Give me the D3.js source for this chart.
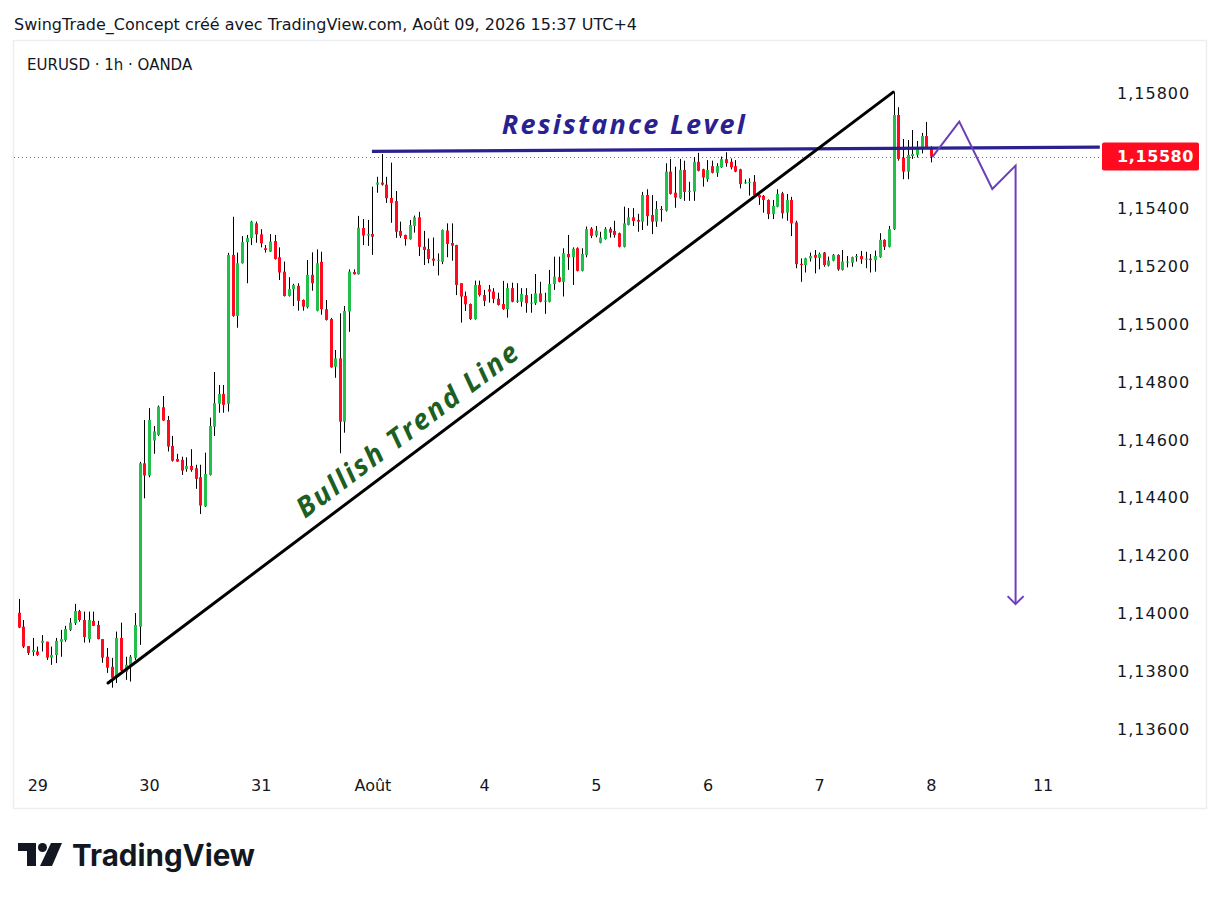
<!DOCTYPE html>
<html><head><meta charset="utf-8">
<script src="https://cdn.jsdelivr.net/npm/d3@7"></script>
<style>html,body{margin:0;padding:0;background:#fff;}svg{display:block}</style>
</head><body>
<svg id="c" width="1221" height="899"></svg>
<script>
// ---------- DATA ----------
const dayLabels = ["29","30","31","Août","4","5","6","7","8","11"];
const dayStartIndex = [4,28,52,76,100,124,148,172,196,220];
// 1,15600 is hidden behind the last-price tag in the reference
const priceTicks = [1.136,1.138,1.140,1.142,1.144,1.146,1.148,1.150,1.152,1.154,1.158];

const open = [1.14002,1.13954,1.13887,1.13866,1.13868,1.13898,1.13902,1.13847,1.13856,1.13902,
1.13908,1.13943,1.13967,1.14008,1.13977,1.13911,1.13974,1.13960,1.13911,1.13850,
1.13815,1.13777,1.13915,1.13798,1.13822,1.13846,1.13954,1.14519,1.14477,1.14598,
1.14617,1.14713,1.14669,1.14579,1.14534,1.14531,1.14499,1.14510,1.14502,1.14471,
1.14370,1.14479,1.14646,1.14725,1.14759,1.14725,1.15240,1.15029,1.15211,1.15284,
1.15298,1.15349,1.15311,1.15263,1.15251,1.15288,1.15232,1.15182,1.15098,1.15121,
1.15133,1.15084,1.15059,1.15171,1.15047,1.15216,1.15052,1.15018,1.14853,1.14882,
1.14663,1.15044,1.15181,1.15173,1.15333,1.15307,1.15312,1.15483,1.15490,1.15483,
1.15437,1.15426,1.15323,1.15309,1.15294,1.15340,1.15370,1.15268,1.15260,1.15227,
1.15220,1.15216,1.15324,1.15281,1.15274,1.15142,1.15098,1.15070,1.15018,1.15136,
1.15101,1.15121,1.15113,1.15088,1.15070,1.15052,1.15125,1.15078,1.15078,1.15101,
1.15073,1.15073,1.15107,1.15078,1.15078,1.15139,1.15163,1.15147,1.15243,1.15232,
1.15263,1.15185,1.15240,1.15331,1.15307,1.15282,1.15295,1.15330,1.15323,1.15315,
1.15268,1.15344,1.15370,1.15361,1.15355,1.15447,1.15378,1.15355,1.15399,1.15393,
1.15528,1.15455,1.15436,1.15534,1.15458,1.15459,1.15562,1.15536,1.15502,1.15547,
1.15524,1.15543,1.15571,1.15562,1.15547,1.15536,1.15488,1.15490,1.15493,1.15447,
1.15444,1.15430,1.15381,1.15407,1.15453,1.15386,1.15430,1.15352,1.15209,1.15205,
1.15228,1.15240,1.15230,1.15248,1.15203,1.15220,1.15240,1.15188,1.15214,1.15213,
1.15232,1.15236,1.15225,1.15227,1.15222,1.15232,1.15292,1.15268,1.15329,1.15724,
1.15576,1.15528,1.15582,1.15586,1.15610,1.15651,1.15611];

const high = [1.14050,1.13977,1.13887,1.13915,1.13885,1.13925,1.13902,1.13885,1.13915,1.13943,
1.13957,1.13984,1.14033,1.14012,1.14006,1.14006,1.14006,1.13974,1.13911,1.13880,
1.13846,1.13937,1.13968,1.13850,1.13856,1.14001,1.14524,1.14669,1.14710,1.14648,
1.14719,1.14752,1.14683,1.14614,1.14552,1.14542,1.14540,1.14568,1.14514,1.14514,
1.14556,1.14677,1.14835,1.14790,1.14790,1.15247,1.15372,1.15248,1.15305,1.15309,
1.15358,1.15355,1.15329,1.15274,1.15312,1.15309,1.15266,1.15217,1.15163,1.15140,
1.15142,1.15086,1.15222,1.15249,1.15259,1.15251,1.15084,1.15022,1.14911,1.15038,
1.15063,1.15190,1.15190,1.15375,1.15364,1.15361,1.15476,1.15510,1.15589,1.15510,
1.15559,1.15461,1.15355,1.15310,1.15361,1.15376,1.15389,1.15323,1.15297,1.15300,
1.15245,1.15328,1.15349,1.15349,1.15275,1.15142,1.15113,1.15072,1.15151,1.15151,
1.15119,1.15136,1.15125,1.15109,1.15150,1.15142,1.15144,1.15142,1.15125,1.15125,
1.15105,1.15174,1.15147,1.15109,1.15188,1.15234,1.15234,1.15263,1.15309,1.15266,
1.15266,1.15263,1.15338,1.15336,1.15340,1.15320,1.15336,1.15336,1.15358,1.15317,
1.15407,1.15402,1.15402,1.15382,1.15458,1.15467,1.15447,1.15426,1.15409,1.15557,
1.15572,1.15545,1.15572,1.15566,1.15493,1.15578,1.15593,1.15538,1.15568,1.15566,
1.15557,1.15580,1.15595,1.15574,1.15568,1.15538,1.15501,1.15505,1.15516,1.15449,
1.15447,1.15432,1.15430,1.15467,1.15458,1.15451,1.15441,1.15358,1.15228,1.15230,
1.15248,1.15257,1.15248,1.15250,1.15234,1.15243,1.15242,1.15257,1.15236,1.15234,
1.15243,1.15254,1.15251,1.15243,1.15255,1.15315,1.15294,1.15340,1.15803,1.15751,
1.15641,1.15637,1.15672,1.15634,1.15662,1.15700,1.15616];

const low = [1.13949,1.13880,1.13856,1.13853,1.13853,1.13868,1.13839,1.13822,1.13828,1.13850,
1.13902,1.13939,1.13960,1.13971,1.13899,1.13899,1.13956,1.13910,1.13829,1.13794,
1.13743,1.13759,1.13801,1.13770,1.13764,1.13839,1.13891,1.14398,1.14471,1.14552,
1.14614,1.14666,1.14560,1.14525,1.14524,1.14479,1.14490,1.14490,1.14431,1.14344,
1.14368,1.14477,1.14614,1.14694,1.14694,1.14698,1.15026,1.14988,1.15210,1.15142,
1.15274,1.15282,1.15266,1.15248,1.15250,1.15224,1.15153,1.15096,1.15096,1.15063,
1.15047,1.15047,1.15055,1.15116,1.15045,1.15033,1.15013,1.14850,1.14815,1.14554,
1.14625,1.14974,1.15172,1.15172,1.15274,1.15271,1.15240,1.15455,1.15480,1.15420,
1.15351,1.15299,1.15299,1.15272,1.15293,1.15317,1.15236,1.15205,1.15211,1.15202,
1.15169,1.15208,1.15232,1.15220,1.15101,1.15006,1.15046,1.15015,1.15016,1.15096,
1.15063,1.15075,1.15073,1.15065,1.15050,1.15023,1.15076,1.15074,1.15061,1.15040,
1.15040,1.15067,1.15076,1.15036,1.15076,1.15119,1.15145,1.15096,1.15188,1.15136,
1.15183,1.15183,1.15232,1.15298,1.15301,1.15280,1.15293,1.15300,1.15300,1.15266,
1.15266,1.15342,1.15340,1.15320,1.15326,1.15341,1.15312,1.15337,1.15355,1.15390,
1.15449,1.15403,1.15434,1.15427,1.15427,1.15427,1.15529,1.15476,1.15493,1.15522,
1.15510,1.15541,1.15545,1.15536,1.15526,1.15470,1.15486,1.15445,1.15445,1.15413,
1.15386,1.15364,1.15364,1.15405,1.15366,1.15358,1.15305,1.15194,1.15147,1.15179,
1.15217,1.15176,1.15190,1.15199,1.15200,1.15218,1.15185,1.15186,1.15197,1.15199,
1.15217,1.15209,1.15194,1.15179,1.15182,1.15230,1.15257,1.15266,1.15326,1.15566,
1.15502,1.15502,1.15572,1.15577,1.15591,1.15608,1.15560];

const close = [1.13951,1.13885,1.13863,1.13873,1.13856,1.13905,1.13847,1.13856,1.13905,1.13911,
1.13946,1.13968,1.14008,1.13977,1.13918,1.13977,1.13957,1.13911,1.13847,1.13812,
1.13777,1.13915,1.13802,1.13822,1.13850,1.13960,1.14519,1.14477,1.14669,1.14629,
1.14715,1.14667,1.14577,1.14528,1.14525,1.14494,1.14510,1.14496,1.14465,1.14373,
1.14482,1.14648,1.14727,1.14759,1.14721,1.15240,1.15029,1.15211,1.15284,1.15298,
1.15355,1.15311,1.15280,1.15257,1.15286,1.15226,1.15179,1.15098,1.15122,1.15136,
1.15081,1.15061,1.15171,1.15142,1.15211,1.15052,1.15015,1.14851,1.14882,1.14663,
1.15046,1.15182,1.15173,1.15334,1.15307,1.15312,1.15303,1.15490,1.15483,1.15436,
1.15420,1.15320,1.15306,1.15295,1.15343,1.15370,1.15268,1.15257,1.15226,1.15220,
1.15223,1.15326,1.15278,1.15272,1.15136,1.15096,1.15069,1.15018,1.15136,1.15101,
1.15081,1.15113,1.15088,1.15067,1.15053,1.15125,1.15078,1.15082,1.15105,1.15073,
1.15075,1.15107,1.15078,1.15082,1.15139,1.15165,1.15147,1.15246,1.15232,1.15261,
1.15185,1.15243,1.15329,1.15306,1.15324,1.15300,1.15330,1.15317,1.15309,1.15268,
1.15349,1.15370,1.15357,1.15355,1.15447,1.15374,1.15355,1.15399,1.15395,1.15528,
1.15451,1.15438,1.15534,1.15458,1.15462,1.15562,1.15531,1.15508,1.15534,1.15524,
1.15547,1.15571,1.15557,1.15543,1.15528,1.15485,1.15491,1.15493,1.15447,1.15439,
1.15430,1.15381,1.15409,1.15451,1.15384,1.15430,1.15349,1.15208,1.15205,1.15228,
1.15236,1.15230,1.15243,1.15205,1.15220,1.15240,1.15190,1.15217,1.15217,1.15232,
1.15236,1.15225,1.15227,1.15222,1.15236,1.15292,1.15268,1.15329,1.15724,1.15572,
1.15528,1.15586,1.15589,1.15610,1.15651,1.15610,1.15580];

// drawings, in (bar index, price)
const trendLine = [[19.2,1.13759],[187.9,1.15803]];
const resistance = [[75.9,1.15598],[232.3,1.15613]];
const projection = [[196.3,1.15578],[202.1,1.15701],[209.2,1.15468],[214.2,1.15549],[214.2,1.14032]];
const lastPrice = 1.15580;
const resistanceLabel = {i:129.9, p:1.15658, text:"Resistance Level"};
const trendLabel = {i:84.7, p:1.14607, text:"Bullish Trend Line"};

// ---------- CHART ----------
const svg = d3.select("#c");
const paneL = 14, paneR = 1100, paneT = 41, paneB = 770;
const x = d3.scaleLinear().domain([0,220]).range([18.7, 18.7 + 220*4.654]);
const y = d3.scaleLinear().domain([1.136,1.158]).range([729,93]);
const fmt = d => d.toFixed(5).replace(".", ",");

// header
svg.append("text").attr("x",14).attr("y",30)
  .attr("font-family","DejaVu Sans, Verdana, sans-serif").attr("font-size",15)
  .attr("fill","#131722").attr("textLength",623).attr("lengthAdjust","spacingAndGlyphs")
  .text("SwingTrade_Concept créé avec TradingView.com, Août 09, 2026 15:37 UTC+4");

// frame
svg.append("rect").attr("x",13.5).attr("y",40.5).attr("width",1193).attr("height",768)
  .attr("fill","#fff").attr("stroke","#eceef2").attr("stroke-width",1.5);

svg.append("text").attr("x",27).attr("y",70)
  .attr("font-family","DejaVu Sans, Verdana, sans-serif").attr("font-size",15)
  .attr("fill","#131722").text("EURUSD · 1h · OANDA");

svg.append("defs").append("clipPath").attr("id","pane")
  .append("rect").attr("x",paneL).attr("y",paneT).attr("width",paneR-paneL).attr("height",paneB-paneT);

const pane = svg.append("g").attr("clip-path","url(#pane)");

// last price dotted line
pane.append("line").attr("x1",paneL).attr("x2",paneR)
  .attr("y1",Math.round(y(lastPrice))+0.5).attr("y2",Math.round(y(lastPrice))+0.5)
  .attr("stroke","#f23645").attr("stroke-width",1).attr("stroke-dasharray","1,3");

// candles
const idx = d3.range(open.length);
const up = "#22c04a", down = "#ff0a1e";
const cg = pane.append("g");
cg.selectAll("rect.wick").data(idx).join("rect").attr("class","wick")
  .attr("x", i => Math.round(x(i)) )
  .attr("width",1)
  .attr("y", i => y(high[i]))
  .attr("height", i => Math.max(1, y(low[i]) - y(high[i])))
  .attr("fill","#000");
cg.selectAll("rect.body").data(idx).join("rect").attr("class","body")
  .attr("x", i => Math.round(x(i)) - 1)
  .attr("width",3)
  .attr("y", i => y(Math.max(open[i], close[i])))
  .attr("height", i => Math.max(1, Math.abs(y(open[i]) - y(close[i]))))
  .attr("fill", i => close[i] >= open[i] ? up : down);

const line = d3.line().x(d => x(d[0])).y(d => y(d[1]));

// resistance
pane.append("path").attr("d", line(resistance)).attr("fill","none")
  .attr("stroke","#2a2191").attr("stroke-width",3.2);
// trend line
pane.append("path").attr("d", line(trendLine)).attr("fill","none")
  .attr("stroke","#000").attr("stroke-width",3).attr("stroke-linecap","round");
// projection
pane.append("path").attr("d", line(projection)).attr("fill","none")
  .attr("stroke","#6b3fb8").attr("stroke-width",2).attr("stroke-linejoin","miter");
const end = projection[projection.length-1];
const ex = x(end[0]), ey = y(end[1]);
pane.append("path").attr("d", `M${ex-8},${ey-8} L${ex},${ey} L${ex+8},${ey-8}`)
  .attr("fill","none").attr("stroke","#6b3fb8").attr("stroke-width",2);

// labels
pane.append("text").attr("x", x(resistanceLabel.i)).attr("y", y(resistanceLabel.p))
  .attr("text-anchor","middle").attr("font-family","Open Sans, Noto Sans, sans-serif")
  .attr("font-style","italic").attr("font-weight",700).attr("font-size",27)
  .attr("fill","#2a2191").attr("textLength",243).attr("lengthAdjust","spacing")
  .text(resistanceLabel.text);

const ang = Math.atan2(y(trendLine[1][1]) - y(trendLine[0][1]), x(trendLine[1][0]) - x(trendLine[0][0])) * 180 / Math.PI;
pane.append("text")
  .attr("transform", `translate(${x(trendLabel.i)},${y(trendLabel.p)}) rotate(${ang})`)
  .attr("text-anchor","middle").attr("font-family","Open Sans, Noto Sans, sans-serif")
  .attr("font-style","italic").attr("font-weight",700).attr("font-size",28)
  .attr("fill","#1d5f22").attr("textLength",270).attr("lengthAdjust","spacing")
  .text(trendLabel.text);

// price axis
const yAxis = d3.axisRight(y).tickValues(priceTicks).tickFormat(fmt).tickSize(0).tickPadding(0);
const ya = svg.append("g").attr("transform","translate(1117,0)").call(yAxis);
ya.select(".domain").remove();
ya.selectAll("text").attr("font-family","DejaVu Sans, Verdana, sans-serif")
  .attr("font-size",16).attr("fill","#131722").attr("letter-spacing",1);

// last price tag
const ly = y(lastPrice);
svg.append("rect").attr("x",1102).attr("y",ly-14).attr("width",97).attr("height",28)
  .attr("rx",2).attr("fill","#ff0a1e");
svg.append("text").attr("x",1117).attr("y",ly).attr("dy","0.35em")
  .attr("font-family","DejaVu Sans, Verdana, sans-serif").attr("font-size",16)
  .attr("font-weight",700).attr("letter-spacing",0.6).attr("fill","#fff").text(fmt(lastPrice));

// time axis
const xAxis = d3.axisBottom(x).tickValues(dayStartIndex).tickFormat((d,i) => dayLabels[i]).tickSize(0).tickPadding(4);
const xa = svg.append("g").attr("transform",`translate(0,${paneB+6})`).call(xAxis);
xa.select(".domain").remove();
xa.selectAll("text").attr("font-family","DejaVu Sans, Verdana, sans-serif")
  .attr("font-size",16).attr("fill","#131722");

// TradingView logo
const lg = svg.append("g").attr("fill","#131722");
lg.append("path").attr("d","M18,843 H36 V866 H27 V851 H18 Z");
lg.append("circle").attr("cx",42.5).attr("cy",847.5).attr("r",4.5);
lg.append("path").attr("d","M51,843 H62 L52,866 H40 Z");
svg.append("text").attr("x",72).attr("y",866)
  .attr("font-family","Inter, Roboto, sans-serif").attr("font-weight",700).attr("font-size",30)
  .attr("fill","#131722").attr("textLength",183).attr("lengthAdjust","spacingAndGlyphs")
  .text("TradingView");
</script>
</body></html>
